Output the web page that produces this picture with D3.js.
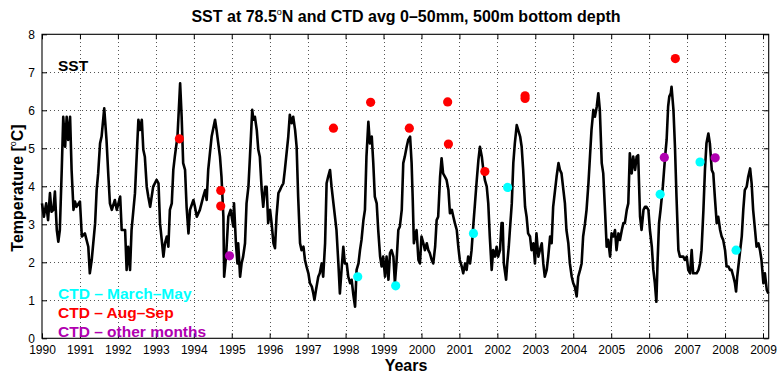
<!DOCTYPE html>
<html>
<head>
<meta charset="utf-8">
<script src="https://cdn.jsdelivr.net/npm/d3@7"></script>
<style>
  html, body { margin: 0; padding: 0; background: #fff; }
  svg { display: block; font-family: "Liberation Sans", Arial, Helvetica, sans-serif; }
</style>
</head>
<body>
<div id="chart"></div>
<script>
// SST time series (decimal year, deg C)
const sstYear = [
  1990.00,1990.05,1990.11,1990.16,1990.21,1990.25,1990.30,1990.34,1990.39,1990.43,1990.47,1990.52,1990.56,1990.61,1990.65,1990.69,1990.74,1990.78,1990.83,1990.87,1990.91,
  1991.00,1991.05,1991.13,1991.22,1991.26,1991.31,1991.40,1991.44,1991.48,1991.53,1991.57,1991.64,1991.70,1991.75,1991.79,1991.84,1991.92,1991.97,
  1992.06,1992.10,1992.19,1992.23,1992.27,1992.32,1992.36,1992.45,1992.54,1992.58,1992.63,1992.67,1992.71,1992.76,1992.80,1992.85,1992.93,
  1993.02,1993.07,1993.11,1993.20,1993.24,1993.29,1993.33,1993.37,1993.42,1993.46,1993.50,1993.57,1993.64,1993.68,1993.72,1993.77,1993.81,1993.86,1993.90,1993.99,
  1994.03,1994.08,1994.16,1994.25,1994.30,1994.34,1994.38,1994.47,1994.56,1994.60,1994.69,1994.73,1994.78,1994.80,1994.85,1994.91,1994.97,
  1995.04,1995.06,1995.11,1995.15,1995.17,1995.22,1995.26,1995.30,1995.35,1995.39,1995.44,1995.48,1995.54,1995.57,1995.61,1995.66,1995.70,1995.74,1995.79,1995.83,1995.88,1995.92,1995.96,
  1996.01,1996.05,1996.10,1996.14,1996.18,1996.23,1996.27,1996.31,1996.36,1996.40,1996.49,1996.53,1996.58,1996.62,1996.67,1996.71,1996.75,1996.80,1996.84,1996.89,1996.93,1996.97,
  1997.02,1997.06,1997.11,1997.15,1997.18,1997.22,1997.28,1997.32,1997.37,1997.41,1997.46,1997.50,1997.54,1997.59,1997.63,1997.68,1997.72,1997.76,1997.81,1997.85,1997.90,1997.94,1997.98,
  1998.03,1998.07,1998.12,1998.16,1998.20,1998.25,1998.29,1998.34,1998.38,1998.42,1998.47,1998.51,1998.55,1998.60,1998.64,1998.69,1998.73,1998.77,1998.82,1998.86,1998.91,1998.95,1998.99,
  1999.04,1999.08,1999.13,1999.17,1999.21,1999.26,1999.30,1999.34,1999.39,1999.43,1999.48,1999.52,1999.56,1999.61,1999.65,1999.70,1999.74,1999.77,1999.80,1999.83,1999.87,1999.92,1999.96,
  2000.00,2000.05,2000.09,2000.14,2000.18,2000.22,2000.27,2000.31,2000.36,2000.40,2000.44,2000.49,2000.53,2000.57,2000.62,2000.66,2000.71,2000.75,2000.80,2000.84,2000.88,2000.93,2000.97,
  2001.01,2001.06,2001.10,2001.15,2001.19,2001.23,2001.28,2001.32,2001.37,2001.41,2001.45,2001.50,2001.54,2001.59,2001.63,2001.67,2001.72,2001.76,2001.80,2001.85,2001.89,2001.94,2001.98,
  2002.02,2002.07,2002.11,2002.14,2002.17,2002.23,2002.26,2002.30,2002.33,2002.38,2002.42,2002.46,2002.51,2002.55,2002.60,2002.64,2002.68,2002.73,2002.77,2002.81,2002.86,2002.90,2002.95,2002.99,
  2003.03,2003.08,2003.12,2003.17,2003.21,2003.25,2003.30,2003.34,2003.39,2003.43,2003.47,2003.52,2003.56,2003.61,2003.65,2003.69,2003.74,2003.78,2003.82,2003.87,2003.91,2003.96,
  2004.00,2004.04,2004.09,2004.13,2004.18,2004.22,2004.26,2004.31,2004.35,2004.40,2004.44,2004.48,2004.53,2004.57,2004.62,2004.66,2004.70,2004.75,2004.79,2004.84,2004.88,2004.92,2004.97,
  2005.01,2005.06,2005.10,2005.14,2005.19,2005.23,2005.28,2005.32,2005.36,2005.41,2005.45,2005.49,2005.54,2005.58,2005.63,2005.67,2005.71,2005.76,2005.80,2005.85,2005.89,2005.93,2005.98,
  2006.02,2006.07,2006.11,2006.15,2006.19,2006.22,2006.26,2006.30,2006.36,2006.42,2006.46,2006.50,2006.53,2006.57,2006.59,2006.64,2006.68,2006.72,2006.77,2006.81,2006.86,2006.90,2006.94,2006.99,
  2007.03,2007.08,2007.12,2007.16,2007.21,2007.25,2007.30,2007.34,2007.38,2007.43,2007.47,2007.51,2007.56,2007.60,2007.65,2007.69,2007.73,2007.78,2007.82,2007.87,2007.91,2007.95,
  2008.00,2008.04,2008.09,2008.13,2008.17,2008.22,2008.26,2008.29,2008.32,2008.38,2008.44,2008.48,2008.52,2008.57,2008.61,2008.66,2008.70,2008.74,2008.79,2008.83,2008.88,2008.92,2008.96,
  2009.01,2009.05,2009.10,2009.14
];
const sstTemp = [
  3.55,3.20,3.55,3.11,3.82,3.33,3.38,3.86,2.85,2.54,2.85,4.43,5.83,5.04,5.83,5.22,5.83,4.43,3.38,3.60,3.46,
  3.60,2.68,2.76,2.41,1.71,2.06,3.03,3.90,4.34,5.13,5.31,6.05,5.22,4.25,3.55,3.38,3.64,3.38,
  3.73,2.85,2.85,1.80,2.41,1.80,2.85,3.82,5.75,5.48,5.75,4.96,4.78,3.99,3.73,3.46,3.99,
  4.17,4.08,3.03,2.15,2.50,2.68,2.41,3.38,3.55,4.43,4.78,5.31,6.71,5.83,4.61,4.43,3.46,2.76,3.38,3.64,
  3.46,3.20,3.38,3.73,3.90,3.64,4.43,5.31,5.75,5.48,4.78,4.25,3.20,1.62,2.15,3.20,3.38,
  2.94,3.55,2.50,1.97,2.50,1.62,1.97,2.15,2.50,3.55,3.99,4.78,6.01,5.75,5.83,5.48,4.96,4.78,3.90,3.46,3.99,3.99,3.03,
  3.38,3.03,2.50,2.37,3.20,3.82,3.90,3.99,4.08,4.43,5.31,5.88,5.66,5.83,5.48,5.04,3.73,2.50,2.32,2.41,2.06,1.89,
  1.71,1.45,1.36,1.18,1.01,1.27,1.62,1.71,1.97,1.62,2.50,4.08,4.25,4.43,3.99,3.55,3.20,2.85,1.97,1.18,1.89,2.41,1.97,
  1.97,1.62,1.45,1.54,1.18,0.83,1.80,1.97,2.32,2.59,3.11,3.38,4.78,5.70,5.13,5.31,4.61,3.73,3.55,2.85,2.15,1.89,2.15,
  1.62,2.15,1.54,2.24,2.32,2.15,1.45,1.97,2.85,2.94,3.38,4.61,4.78,5.04,5.22,5.31,4.61,3.64,2.50,2.68,2.85,2.06,1.97,
  2.68,2.50,2.32,2.50,2.32,2.24,2.06,1.97,2.41,3.11,3.20,4.25,4.74,4.34,4.25,4.17,3.90,3.29,3.38,3.20,3.03,2.85,2.41,
  2.06,1.89,1.71,1.97,1.80,2.15,1.97,2.32,3.03,3.55,4.08,4.69,5.04,4.78,4.43,4.17,3.99,3.55,2.68,1.80,2.32,2.15,2.41,
  2.15,2.32,3.03,3.03,1.97,1.54,1.97,2.41,2.85,3.55,4.61,5.13,5.61,5.48,5.31,5.04,4.43,3.46,3.20,2.76,2.68,2.32,2.50,1.97,
  2.76,2.15,2.32,2.50,1.97,1.62,1.80,2.15,2.68,2.50,3.46,3.90,4.25,4.61,4.43,4.34,3.90,3.55,2.85,2.50,1.97,1.62,
  1.45,1.36,1.10,1.62,1.80,1.97,2.68,3.03,3.38,4.08,4.78,5.48,6.01,5.83,6.10,6.45,6.01,4.61,4.34,3.29,2.41,2.59,2.15,
  2.76,2.68,2.85,2.32,2.76,2.59,2.85,3.03,3.03,3.38,3.55,4.87,4.34,4.78,4.43,4.78,4.82,3.20,2.85,3.38,3.46,3.46,3.38,
  2.85,2.41,1.80,1.45,0.96,1.97,3.03,3.38,3.99,4.78,5.22,6.10,6.36,6.45,6.62,6.01,5.04,3.73,2.32,2.15,2.15,2.15,2.06,2.15,
  1.80,1.71,2.32,1.71,1.71,1.71,1.80,1.97,2.32,3.38,4.43,5.13,5.39,5.13,4.43,4.34,3.73,3.03,3.20,2.85,2.68,2.59,
  2.32,1.89,1.89,1.80,1.80,1.62,1.45,1.23,1.62,2.15,2.68,3.38,3.90,3.99,4.25,4.47,4.08,3.38,2.85,2.41,2.50,2.32,2.06,
  1.45,1.71,1.27,1.18
];

// CTD averages 0-50 m
const ctdSpringYear = [1998.32, 1999.32, 2001.37, 2002.27, 2006.29, 2007.34, 2008.29];
const ctdSpringTemp = [1.62, 1.38, 2.76, 3.97, 3.79, 4.64, 2.32];
const ctdSummerYear = [1993.62, 1994.71, 1994.71, 1997.68, 1998.66, 1999.68, 2000.69, 2000.71, 2001.67, 2002.73, 2002.73, 2006.69];
const ctdSummerTemp = [5.25, 3.89, 3.48, 5.53, 6.21, 5.53, 6.22, 5.11, 4.39, 6.38, 6.31, 7.36];
const ctdOtherYear = [1994.94, 2006.40, 2007.74];
const ctdOtherTemp = [2.17, 4.76, 4.75];

const yearTicks = d3.range(1990, 2010);
const tempTicks = [0, 1, 2, 3, 4, 5, 6, 7, 8];

const legendItems = [
  { label: "CTD \u2013 March\u2013May", color: "#00ffff" },
  { label: "CTD \u2013 Aug\u2013Sep", color: "#ff0000" },
  { label: "CTD \u2013 other months", color: "#b000b0" }
];

const width = 779;
const height = 372;
const margin = { top: 34.3, right: 10.3, bottom: 33.7, left: 42 };

const svg = d3.select("#chart").append("svg")
  .attr("width", width)
  .attr("height", height);

const x = d3.scaleLinear()
  .domain([1990, 2009.15])
  .range([margin.left, width - margin.right]);

const y = d3.scaleLinear()
  .domain([0, 8])
  .range([height - margin.bottom, margin.top]);

const plotW = width - margin.left - margin.right;
const plotH = height - margin.top - margin.bottom;

// grid
const grid = svg.append("g")
  .attr("stroke", "#555")
  .attr("stroke-width", 1)
  .attr("stroke-dasharray", "1,3")
  .attr("shape-rendering", "crispEdges");

grid.selectAll("line.vx")
  .data(yearTicks.slice(1))
  .join("line")
  .attr("class", "vx")
  .attr("x1", d => Math.round(x(d)) + 0.5)
  .attr("x2", d => Math.round(x(d)) + 0.5)
  .attr("y1", margin.top)
  .attr("y2", height - margin.bottom);

grid.selectAll("line.hy")
  .data(tempTicks.slice(1, -1))
  .join("line")
  .attr("class", "hy")
  .attr("x1", margin.left)
  .attr("x2", width - margin.right)
  .attr("y1", d => Math.round(y(d)) + 0.5)
  .attr("y2", d => Math.round(y(d)) + 0.5);

// SST line
const sst = sstYear.map((t, i) => [t, sstTemp[i]]);

const line = d3.line()
  .x(d => x(d[0]))
  .y(d => y(d[1]));

svg.append("path")
  .datum(sst)
  .attr("fill", "none")
  .attr("stroke", "#000")
  .attr("stroke-width", 2.6)
  .attr("stroke-linejoin", "round")
  .attr("d", line);

// CTD points
function dots(years, temps, color) {
  svg.append("g")
    .selectAll("circle")
    .data(years.map((t, i) => [t, temps[i]]))
    .join("circle")
    .attr("cx", d => x(d[0]))
    .attr("cy", d => y(d[1]))
    .attr("r", 4.6)
    .attr("fill", color);
}
dots(ctdSpringYear, ctdSpringTemp, legendItems[0].color);
dots(ctdSummerYear, ctdSummerTemp, legendItems[1].color);
dots(ctdOtherYear, ctdOtherTemp, legendItems[2].color);

// axes (MATLAB style: ticks pointing inward on all four sides)
const xAxis = svg.append("g")
  .attr("transform", `translate(0,${height - margin.bottom})`)
  .call(d3.axisBottom(x).tickValues(yearTicks).tickFormat(d3.format("d")).tickSize(-5).tickPadding(7));

svg.append("g")
  .attr("transform", `translate(0,${margin.top})`)
  .call(d3.axisTop(x).tickValues(yearTicks).tickFormat("").tickSize(-5));

const yAxis = svg.append("g")
  .attr("transform", `translate(${margin.left},0)`)
  .call(d3.axisLeft(y).tickValues(tempTicks).tickFormat(d3.format("d")).tickSize(-5).tickPadding(7));

svg.append("g")
  .attr("transform", `translate(${width - margin.right},0)`)
  .call(d3.axisRight(y).tickValues(tempTicks).tickFormat("").tickSize(-5));

svg.selectAll(".domain").remove();
svg.selectAll(".tick line").attr("stroke", "#000");
svg.selectAll(".tick text")
  .attr("fill", "#000")
  .style("font-size", "12px")
  .style("font-family", "\"Liberation Sans\", Arial, sans-serif");

svg.append("rect")
  .attr("x", margin.left)
  .attr("y", margin.top)
  .attr("width", plotW)
  .attr("height", plotH)
  .attr("fill", "none")
  .attr("stroke", "#000")
  .attr("stroke-width", 1.1);

// title
const title = svg.append("text")
  .attr("x", 406)
  .attr("y", 22)
  .attr("text-anchor", "middle")
  .style("font-size", "16px")
  .style("font-weight", "bold");
title.append("tspan").text("SST at 78.5");
title.append("tspan").attr("dy", -7).style("font-size", "9px").style("font-weight", "normal").text("o");
title.append("tspan").attr("dy", 7).text("N and CTD avg 0\u201350mm, 500m bottom depth");

// axis labels
svg.append("text")
  .attr("x", 406)
  .attr("y", 371)
  .attr("text-anchor", "middle")
  .style("font-size", "16px")
  .style("font-weight", "bold")
  .text("Years");

const ylab = svg.append("text")
  .attr("transform", "translate(23,188) rotate(-90)")
  .attr("text-anchor", "middle")
  .style("font-size", "16px")
  .style("font-weight", "bold");
ylab.append("tspan").text("Temperature [");
ylab.append("tspan").attr("dy", -7).style("font-size", "9px").style("font-weight", "normal").text("o");
ylab.append("tspan").attr("dy", 7).text("C]");

// series label
svg.append("text")
  .attr("x", 58)
  .attr("y", 71)
  .style("font-size", "15.5px")
  .style("font-weight", "bold")
  .text("SST");

// legend
svg.append("g")
  .selectAll("text")
  .data(legendItems)
  .join("text")
  .attr("x", 58)
  .attr("y", (d, i) => 299.3 + i * 18.6)
  .attr("fill", d => d.color)
  .style("font-size", "15.5px")
  .style("font-weight", "bold")
  .text(d => d.label);
</script>
</body>
</html>
